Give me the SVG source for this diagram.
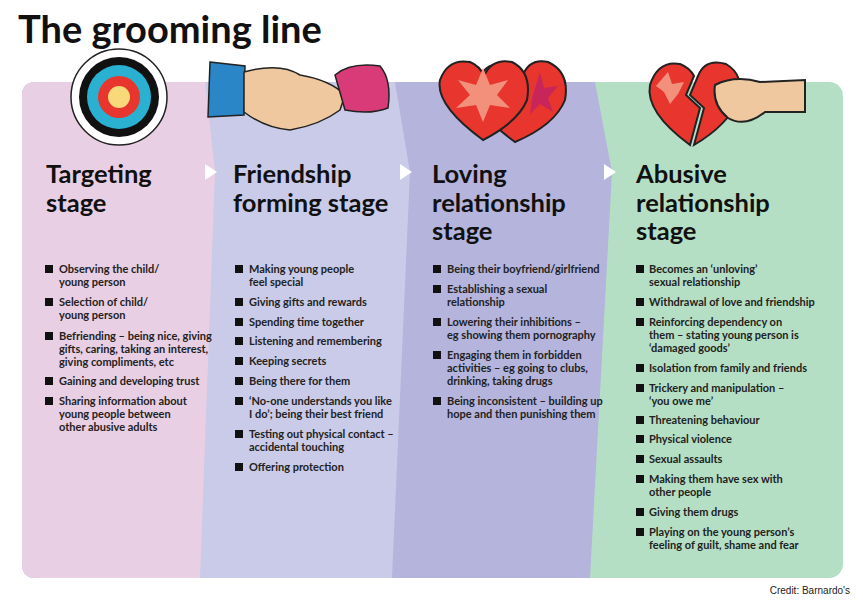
<svg xmlns="http://www.w3.org/2000/svg" width="863" height="600" viewBox="0 0 863 600">
<style>
.h{font-family:Lato,"Open Sans",sans-serif;font-weight:bold;font-size:25.5px;fill:#111}
.b{font-family:Lato,"Open Sans",sans-serif;font-weight:bold;font-size:11px;fill:#222}
.sq{fill:#111}
.hs{fill:#e8362e;stroke:#222;stroke-width:2}
.st{fill:#f3907c}
</style>
<rect width="863" height="600" fill="#fff"/>
<text x="18" y="43" font-family="Lato,sans-serif" font-weight="bold" font-size="38" fill="#111">The grooming line</text>
<g id="panels">
<rect x="22" y="82" width="821" height="496" rx="14" fill="#b5dfc4"/>
<path d="M22,96 Q22,82 36,82 L595,82 L612,172 L590,578 L36,578 Q22,578 22,564 Z" fill="#b4b4dc"/>
<path d="M22,96 Q22,82 36,82 L395,82 L410,172 L392,578 L36,578 Q22,578 22,564 Z" fill="#c9cbe8"/>
<path d="M22,96 Q22,82 36,82 L205,82 L215,172 L200,578 L36,578 Q22,578 22,564 Z" fill="#e9cfe3"/>
</g>
<g id="connectors" fill="#fff">
<path d="M205,164 L217,172 L205,180 Z"/>
<path d="M400,164 L412,172 L400,180 Z"/>
<path d="M604,164 L616,172 L604,180 Z"/>
</g>
<g id="target">
<circle cx="119" cy="97" r="48" fill="#fff" stroke="#222" stroke-width="1.5"/>
<circle cx="119" cy="97" r="40" fill="#111"/>
<circle cx="119" cy="97" r="32" fill="#2ab0d0"/>
<circle cx="119" cy="97" r="21" fill="#e8362e"/>
<circle cx="119" cy="97" r="11" fill="#f7d97a"/>
</g>
<g id="handshake" stroke="#222" stroke-width="1.5">
<path d="M210,62 L245,66 L244,115 L208,117 Z" fill="#2a86c6"/>
<path d="M244,72 Q280,62 300,75 Q330,80 345,95 L340,110 Q320,125 290,130 Q265,128 244,112 Z" fill="#f0c8a0"/>
<path d="M335,75 Q350,62 380,66 Q392,80 388,108 Q370,115 345,110 Z" fill="#d93a78"/>
</g>
<g id="hearts" stroke="#222" stroke-width="2">
<path class="hs" d="M515,142 Q470,110 478,82 Q485,60 508,65 Q520,70 522,78 Q528,58 548,62 Q570,72 565,100 Q555,125 515,142 Z"/>
<path d="M540,72 L544,88 L558,86 L548,98 L553,112 L540,104 L530,114 L532,98 Z" fill="#c8265a" stroke="none"/>
<path class="hs" d="M483,140 Q435,105 440,80 Q448,58 470,62 Q480,66 484,76 Q492,58 512,62 Q532,72 527,100 Q518,122 483,140 Z"/>
<path class="st" d="M483,68 L490,85 L508,80 L497,95 L510,108 L490,105 L483,122 L476,105 L456,108 L470,95 L458,80 L476,85 Z" stroke="none"/>
</g>
<g id="brokenheart" stroke="#222" stroke-width="2">
<path class="hs" d="M690,145 Q645,112 650,85 Q658,60 680,64 Q690,68 694,76 L686,95 L700,108 L690,145 Z"/>
<path class="hs" d="M694,145 L704,108 L690,95 L698,76 Q705,58 726,64 Q745,75 738,100 Q728,125 694,145 Z"/>
<path class="st" d="M668,72 L672,84 L684,82 L678,94 L670,104 L664,92 L656,86 Z" stroke="none"/>
<path d="M715,85 Q735,75 760,82 L805,80 L805,112 L765,112 Q745,128 728,118 Q712,105 715,85 Z" fill="#f0c8a0"/>
</g>
<g id="stage1">
<text class="h"><tspan x="46" y="183">Targeting</tspan><tspan x="46" y="212">stage</tspan></text>
<g class="sq"><rect x="45" y="265" width="8" height="8"/><rect x="45" y="298" width="8" height="8"/><rect x="45" y="332" width="8" height="8"/><rect x="45" y="377" width="8" height="8"/><rect x="45" y="397" width="8" height="8"/></g>
<text class="b"><tspan x="59" y="273">Observing the child/</tspan><tspan x="59" y="286">young person</tspan><tspan x="59" y="306">Selection of child/</tspan><tspan x="59" y="319">young person</tspan><tspan x="59" y="340">Befriending – being nice, giving</tspan><tspan x="59" y="353">gifts, caring, taking an interest,</tspan><tspan x="59" y="366">giving compliments, etc</tspan><tspan x="59" y="385">Gaining and developing trust</tspan><tspan x="59" y="405">Sharing information about</tspan><tspan x="59" y="418">young people between</tspan><tspan x="59" y="431">other abusive adults</tspan></text>
</g>
<g id="stage2">
<text class="h"><tspan x="233" y="183">Friendship</tspan><tspan x="233" y="212">forming stage</tspan></text>
<g class="sq"><rect x="235" y="265" width="8" height="8"/><rect x="235" y="298" width="8" height="8"/><rect x="235" y="318" width="8" height="8"/><rect x="235" y="337" width="8" height="8"/><rect x="235" y="357" width="8" height="8"/><rect x="235" y="377" width="8" height="8"/><rect x="235" y="397" width="8" height="8"/><rect x="235" y="430" width="8" height="8"/><rect x="235" y="463" width="8" height="8"/></g>
<text class="b"><tspan x="249" y="273">Making young people</tspan><tspan x="249" y="286">feel special</tspan><tspan x="249" y="306">Giving gifts and rewards</tspan><tspan x="249" y="326">Spending time together</tspan><tspan x="249" y="345">Listening and remembering</tspan><tspan x="249" y="365">Keeping secrets</tspan><tspan x="249" y="385">Being there for them</tspan><tspan x="249" y="405">‘No-one understands you like</tspan><tspan x="249" y="418">I do’; being their best friend</tspan><tspan x="249" y="438">Testing out physical contact –</tspan><tspan x="249" y="451">accidental touching</tspan><tspan x="249" y="471">Offering protection</tspan></text>
</g>
<g id="stage3">
<text class="h"><tspan x="432" y="183">Loving</tspan><tspan x="432" y="212">relationship</tspan><tspan x="432" y="240">stage</tspan></text>
<g class="sq"><rect x="433" y="265" width="8" height="8"/><rect x="433" y="285" width="8" height="8"/><rect x="433" y="318" width="8" height="8"/><rect x="433" y="351" width="8" height="8"/><rect x="433" y="397" width="8" height="8"/></g>
<text class="b"><tspan x="447" y="273">Being their boyfriend/girlfriend</tspan><tspan x="447" y="293">Establishing a sexual</tspan><tspan x="447" y="306">relationship</tspan><tspan x="447" y="326">Lowering their inhibitions –</tspan><tspan x="447" y="339">eg showing them pornography</tspan><tspan x="447" y="359">Engaging them in forbidden</tspan><tspan x="447" y="372">activities – eg going to clubs,</tspan><tspan x="447" y="385">drinking, taking drugs</tspan><tspan x="447" y="405">Being inconsistent – building up</tspan><tspan x="447" y="418">hope and then punishing them</tspan></text>
</g>
<g id="stage4">
<text class="h"><tspan x="636" y="183">Abusive</tspan><tspan x="636" y="212">relationship</tspan><tspan x="636" y="240">stage</tspan></text>
<g class="sq"><rect x="636" y="265" width="8" height="8"/><rect x="636" y="298" width="8" height="8"/><rect x="636" y="318" width="8" height="8"/><rect x="636" y="364" width="8" height="8"/><rect x="636" y="384" width="8" height="8"/><rect x="636" y="416" width="8" height="8"/><rect x="636" y="435" width="8" height="8"/><rect x="636" y="455" width="8" height="8"/><rect x="636" y="475" width="8" height="8"/><rect x="636" y="508" width="8" height="8"/><rect x="636" y="528" width="8" height="8"/></g>
<text class="b"><tspan x="649" y="273">Becomes an ‘unloving’</tspan><tspan x="649" y="286">sexual relationship</tspan><tspan x="649" y="306">Withdrawal of love and friendship</tspan><tspan x="649" y="326">Reinforcing dependency on</tspan><tspan x="649" y="339">them – stating young person is</tspan><tspan x="649" y="352">‘damaged goods’</tspan><tspan x="649" y="372">Isolation from family and friends</tspan><tspan x="649" y="392">Trickery and manipulation –</tspan><tspan x="649" y="405">‘you owe me’</tspan><tspan x="649" y="424">Threatening behaviour</tspan><tspan x="649" y="443">Physical violence</tspan><tspan x="649" y="463">Sexual assaults</tspan><tspan x="649" y="483">Making them have sex with</tspan><tspan x="649" y="496">other people</tspan><tspan x="649" y="516">Giving them drugs</tspan><tspan x="649" y="536">Playing on the young person’s</tspan><tspan x="649" y="549">feeling of guilt, shame and fear</tspan></text>
</g>
<text x="850" y="594" text-anchor="end" font-family="Liberation Sans,Arial,sans-serif" font-size="10" fill="#222">Credit: Barnardo's</text>
</svg>
